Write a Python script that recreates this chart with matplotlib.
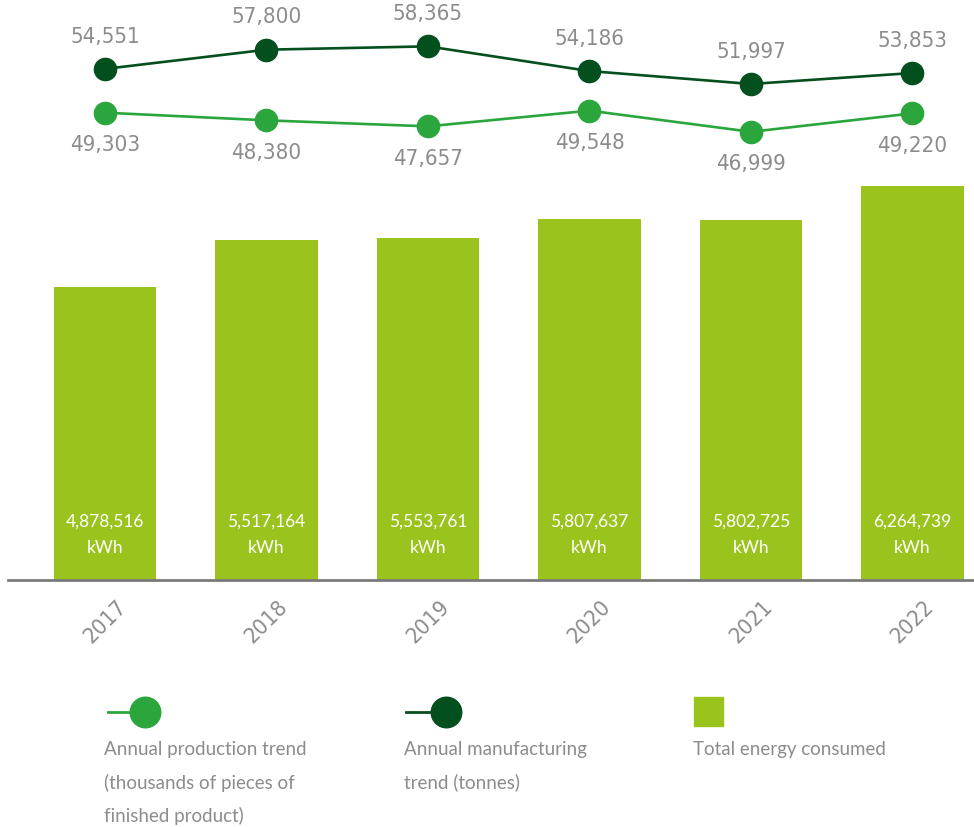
import matplotlib
matplotlib.use("Agg")
import matplotlib.pyplot as plt
from matplotlib.lines import Line2D
from matplotlib.patches import Rectangle

years = ["2017", "2018", "2019", "2020", "2021", "2022"]
energy_kwh = [4878516, 5517164, 5553761, 5807637, 5802725, 6264739]
manufacturing_t = [54551, 57800, 58365, 54186, 51997, 53853]
production_k = [49303, 48380, 47657, 49548, 46999, 49220]

BAR = "#9BC31E"
LIGHT = "#2BA63C"
DARK = "#034F1E"
GREY = "#8C8C8C"
TXT_FONT = ["Lato", "DejaVu Sans"]
NUM_KW = dict(family="DejaVu Sans", fontstretch="condensed")

W, H = 974, 827
fig = plt.figure(figsize=(W / 100, H / 100), dpi=100)

ax = fig.add_axes([8 / W, (H - 580) / H, 966 / W, 580 / H])
x = list(range(len(years)))
ax.bar(x, energy_kwh, width=0.632, color=BAR, zorder=2)
ax.set_xlim(-0.6006, 5.381)
ax.set_ylim(858000, 8817000)
for s in ["top", "right", "left"]:
    ax.spines[s].set_visible(False)
ax.spines["bottom"].set_color("#7A7A7A")
ax.spines["bottom"].set_linewidth(2)
ax.set_yticks([])
ax.set_xticks(x)
ax.set_xticklabels(years, rotation=45, ha="center", va="top", fontsize=16,
                   color=GREY, **NUM_KW)
ax.tick_params(axis="x", length=0, pad=12)
for xi, v in zip(x, energy_kwh):
    ax.annotate(f"{v:,}", (xi, 858000), xytext=(0, 41.8), textcoords="offset points",
                ha="center", va="center", color="white", fontsize=12.5, family=TXT_FONT)
    ax.annotate("kWh", (xi, 858000), xytext=(0, 23), textcoords="offset points",
                ha="center", va="center", color="white", fontsize=12.5, family=TXT_FONT)

# dark line axis
ax2 = ax.twinx()
ax2.set_ylim(-31931, 66208)
ax2.set_axis_off()
ax2.plot(x, manufacturing_t, color=DARK, lw=1.9, marker="o", ms=16, zorder=3)
for xi, v in zip(x, manufacturing_t):
    ax2.annotate(f"{v:,}", (xi, v), xytext=(0, 16), textcoords="offset points",
                 ha="center", va="bottom", fontsize=16, color=GREY, **NUM_KW)

# light line axis
ax3 = ax.twinx()
ax3.set_ylim(-7000, 62879)
ax3.set_axis_off()
ax3.plot(x, production_k, color=LIGHT, lw=1.9, marker="o", ms=16, zorder=3)
for xi, v in zip(x, production_k):
    ax3.annotate(f"{v:,}", (xi, v), xytext=(0, -16), textcoords="offset points",
                 ha="center", va="top", fontsize=16, color=GREY, **NUM_KW)

def fx(px):
    return px / W
def fy(py):
    return 1 - py / H

fig.add_artist(Line2D([fx(108), fx(145)], [fy(712), fy(712)], color=LIGHT, lw=2))
fig.add_artist(Line2D([fx(145)], [fy(712)], marker="o", ms=22, color=LIGHT, lw=0))
fig.add_artist(Line2D([fx(406), fx(446)], [fy(712), fy(712)], color=DARK, lw=2))
fig.add_artist(Line2D([fx(446)], [fy(712)], marker="o", ms=22, color=DARK, lw=0))
fig.add_artist(Rectangle((fx(694), fy(726)), 29 / W, 29 / H, color=BAR))

LEG = dict(ha="left", va="top", fontsize=13.5, color=GREY, family=TXT_FONT, linespacing=2.03)
fig.text(fx(104), fy(741), "Annual production trend\n(thousands of pieces of\nfinished product)", **LEG)
fig.text(fx(404), fy(741), "Annual manufacturing\ntrend (tonnes)", **LEG)
fig.text(fx(693), fy(741), "Total energy consumed", **LEG)

fig.savefig("out.png", dpi=100)
